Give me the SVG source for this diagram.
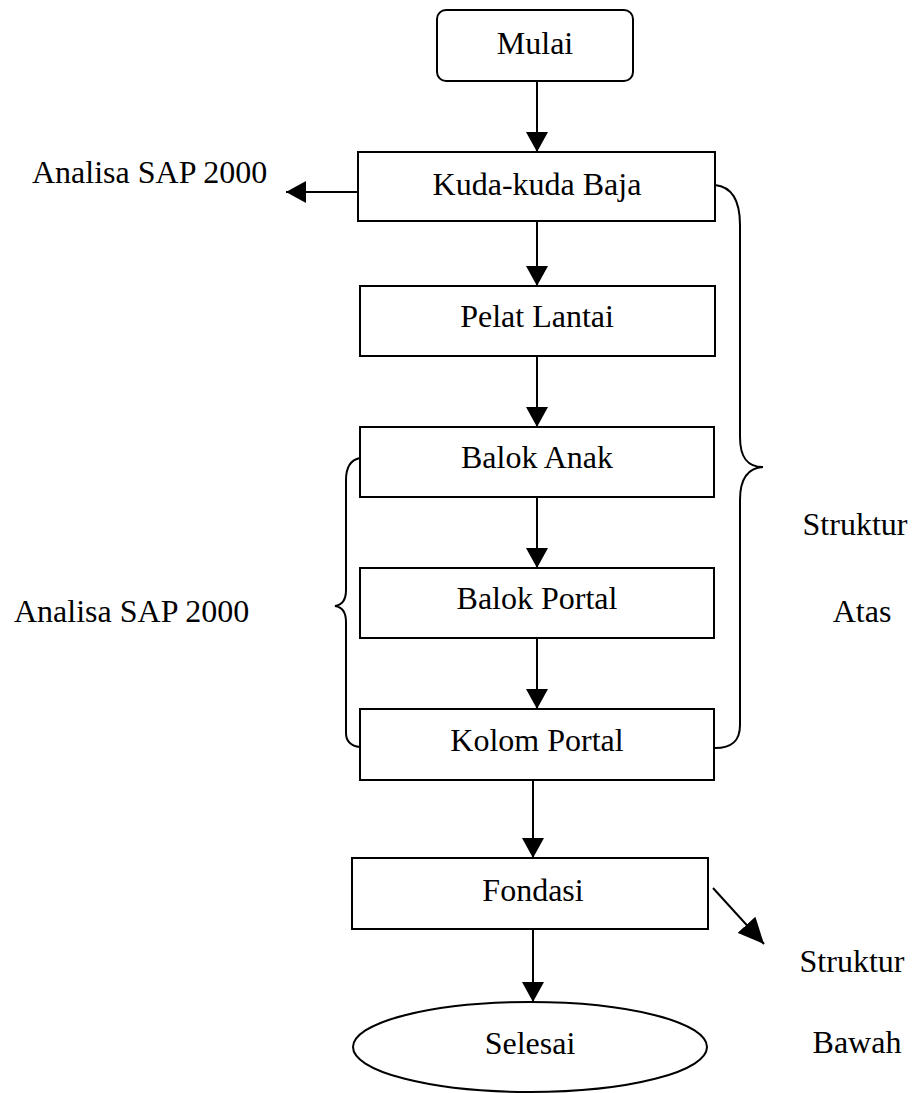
<svg xmlns="http://www.w3.org/2000/svg" width="917" height="1093" viewBox="0 0 917 1093">
<style>
.box{fill:#fff;stroke:#000;stroke-width:2}
.t{font-family:"Liberation Serif","Times New Roman",serif;font-size:32px;fill:#000}
.c{text-anchor:middle}
.ln{fill:none;stroke:#000;stroke-width:2}
</style>
<defs>
<marker id="ah" markerUnits="userSpaceOnUse" markerWidth="20" markerHeight="22" refX="20" refY="11" orient="auto" viewBox="0 0 20 22">
<path d="M0,0 L20,11 L0,22 Z" fill="#000"/>
</marker>
<marker id="ahb" markerUnits="userSpaceOnUse" markerWidth="26" markerHeight="24" refX="26" refY="12" orient="auto" viewBox="0 0 26 24">
<path d="M0,0 L26,12 L0,24 Z" fill="#000"/>
</marker>
</defs>
<rect width="917" height="1093" fill="#fff"/>
<g id="connectors">
<line class="ln" x1="537" y1="81" x2="537" y2="152" marker-end="url(#ah)"/>
<line class="ln" x1="537" y1="221" x2="537" y2="286" marker-end="url(#ah)"/>
<line class="ln" x1="537" y1="356" x2="537" y2="427" marker-end="url(#ah)"/>
<line class="ln" x1="537" y1="497" x2="537" y2="568" marker-end="url(#ah)"/>
<line class="ln" x1="537" y1="638" x2="537" y2="709" marker-end="url(#ah)"/>
<line class="ln" x1="533" y1="780" x2="533" y2="858" marker-end="url(#ah)"/>
<line class="ln" x1="533" y1="929" x2="533" y2="1002" marker-end="url(#ah)"/>
<line class="ln" x1="358" y1="192" x2="286" y2="192" marker-end="url(#ah)"/>
<line class="ln" x1="713" y1="888" x2="764" y2="944" marker-end="url(#ahb)"/>
<path class="ln" d="M715,185 C734,187 740,203 740,225 L740,437 C740,457 747,467 763,467 C747,468 740,480 740,500 L740,725 C740,741 732,748 715,748"/>
<path class="ln" d="M360,458 C350,460 346,468 346,480 L346,590 C346,600 342,605 335,606 C342,607 346,612 346,622 L346,733 C346,742 351,746 360,747"/>
</g>
<g id="mulai">
<rect class="box" x="437" y="10" width="196" height="71" rx="9"/>
<text class="t c" x="535" y="54">Mulai</text>
</g>
<g id="kuda-kuda-baja">
<rect class="box" x="358" y="152" width="357" height="69"/>
<text class="t c" x="537" y="195">Kuda-kuda Baja</text>
</g>
<g id="pelat-lantai">
<rect class="box" x="360" y="286" width="355" height="70"/>
<text class="t c" x="537" y="327">Pelat Lantai</text>
</g>
<g id="balok-anak">
<rect class="box" x="360" y="427" width="354" height="70"/>
<text class="t c" x="537" y="468">Balok Anak</text>
</g>
<g id="balok-portal">
<rect class="box" x="360" y="568" width="354" height="70"/>
<text class="t c" x="537" y="609">Balok Portal</text>
</g>
<g id="kolom-portal">
<rect class="box" x="360" y="709" width="354" height="71"/>
<text class="t c" x="537" y="751">Kolom Portal</text>
</g>
<g id="fondasi">
<rect class="box" x="352" y="858" width="356" height="71"/>
<text class="t c" x="533" y="901">Fondasi</text>
</g>
<g id="selesai">
<ellipse class="box" cx="530" cy="1047" rx="177" ry="45"/>
<text class="t c" x="530" y="1054">Selesai</text>
</g>
<g id="labels">
<text class="t" x="32" y="183">Analisa SAP 2000</text>
<text class="t" x="14" y="622">Analisa SAP 2000</text>
<text class="t c" x="855" y="535">Struktur</text>
<text class="t c" x="862" y="622">Atas</text>
<text class="t c" x="852" y="972">Struktur</text>
<text class="t c" x="857" y="1053">Bawah</text>
</g>
</svg>
